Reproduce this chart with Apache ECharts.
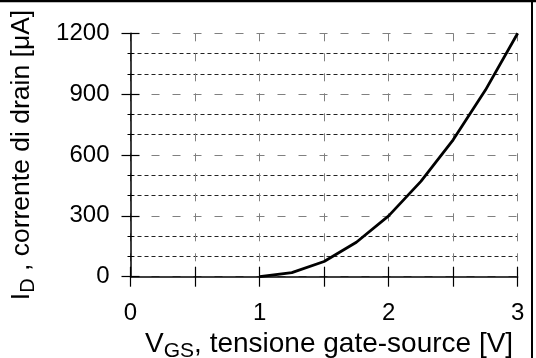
<!DOCTYPE html>
<html>
<head>
<meta charset="utf-8">
<script src="https://cdn.jsdelivr.net/npm/echarts@6/dist/echarts.min.js"></script>
<style>
html,body{margin:0;padding:0;background:#fff;}
#c{width:536px;height:358px;}
</style>
</head>
<body>
<div id="c"></div>
<script>
const vgs = [1, 1.25, 1.5, 1.75, 2, 2.25, 2.5, 2.75, 3];
const idDrain = [0, 20, 75, 170, 300, 470, 675, 920, 1200];
const xTickLabels = ['0', '1', '2', '3'];
const yTickLabels = ['0', '300', '600', '900', '1200'];

const FONT = 'Liberation Sans';
const chart = echarts.init(document.getElementById('c'), null, {renderer: 'canvas'});

const baseX = {
  type: 'value', min: 0, max: 3, interval: 0.5, gridIndex: 0, position: 'bottom'
};
const baseY = {
  type: 'value', min: 0, max: 1200, interval: 300, gridIndex: 0, position: 'left'
};

chart.setOption({
  animation: false,
  backgroundColor: '#fff',
  grid: {left: 130.5, right: 18.3, top: 33.3, bottom: 81.3, containLabel: false, outerBoundsMode: 'none'},
  xAxis: [
    Object.assign({}, baseX, {
      name: '{m|V}{s|GS}{m|, tensione gate-source [V]}',
      nameLocation: 'middle',
      nameGap: 45,
      nameTextStyle: {
        padding: [0, 0, 0, 10],
        rich: {
          m: {fontFamily: FONT, fontSize: 28, color: '#000'},
          s: {fontFamily: FONT, fontSize: 21, color: '#000', padding: [13, 0, 0, 0]}
        }
      },
      axisLine: {show: true, lineStyle: {color: '#000', width: 1.5}},
      axisTick: {show: true, inside: false, length: 10, lineStyle: {color: '#000', width: 1.2}},
      axisLabel: {
        show: true, margin: 25, fontFamily: FONT, fontSize: 24, color: '#000',
        formatter: function (v) {
          const i = xTickLabels.indexOf(String(v));
          return i >= 0 ? xTickLabels[i] : '';
        }
      },
      splitLine: {show: true, lineStyle: {color: '#808080', type: [8, 12], width: 1}}
    }),
    Object.assign({}, baseX, {
      axisLine: {show: false},
      axisTick: {show: true, inside: true, length: 10, lineStyle: {color: '#000', width: 1.2}},
      axisLabel: {show: false},
      splitLine: {show: false}
    })
  ],
  yAxis: [
    Object.assign({}, baseY, {
      name: '{m|I}{s|D}{m| , corrente di drain [μA]}',
      nameLocation: 'middle',
      nameRotate: 90,
      nameGap: 92,
      nameTextStyle: {rich: {
        m: {fontFamily: FONT, fontSize: 26.5, color: '#000'},
        s: {fontFamily: FONT, fontSize: 20, color: '#000', padding: [13, 0, 0, 0]}
      }},
      axisLine: {show: true, lineStyle: {color: '#000', width: 1.5}},
      axisTick: {show: true, inside: false, length: 9, lineStyle: {color: '#000', width: 1.2}},
      minorTick: {show: true, splitNumber: 3, length: 3, lineStyle: {color: '#000', width: 1}},
      axisLabel: {
        show: true, margin: 21, fontFamily: FONT, fontSize: 24, color: '#000',
        formatter: function (v) {
          const i = yTickLabels.indexOf(String(v));
          return i >= 0 ? yTickLabels[i] : '';
        }
      },
      splitLine: {show: true, lineStyle: {color: '#808080', type: [8, 13], width: 1}},
      minorSplitLine: {show: true, lineStyle: {color: '#222', type: [4, 3], width: 1}}
    }),
    Object.assign({}, baseY, {
      axisLine: {show: false},
      axisTick: {show: true, inside: true, length: 9, lineStyle: {color: '#000', width: 1.2}},
      minorTick: {show: true, splitNumber: 3, length: 3, lineStyle: {color: '#000', width: 1}},
      axisLabel: {show: false},
      splitLine: {show: false}
    })
  ],
  series: [{
    type: 'line',
    xAxisIndex: 0, yAxisIndex: 0,
    data: vgs.map((v, i) => [v, idDrain[i]]),
    symbol: 'none',
    lineStyle: {color: '#000', width: 2.8},
    z: 5
  }],
  graphic: [
    {type: 'line', shape: {x1: 0, y1: 1, x2: 536, y2: 1}, style: {stroke: '#000', lineWidth: 2.5}},
    {type: 'line', shape: {x1: 532, y1: 0, x2: 532, y2: 358}, style: {stroke: '#000', lineWidth: 2}}
  ]
});
</script>
</body>
</html>
